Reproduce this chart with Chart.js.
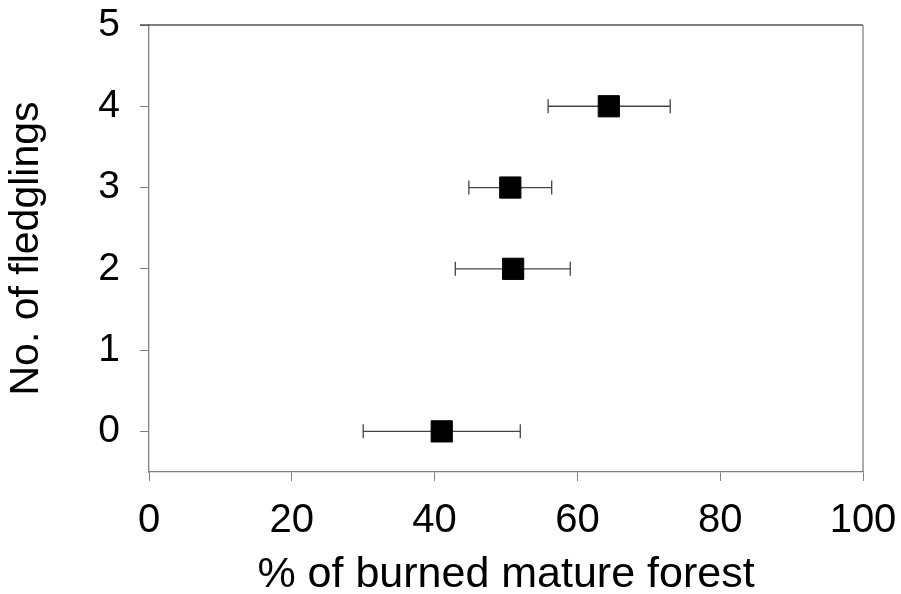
<!DOCTYPE html>
<html>
<head>
<meta charset="utf-8">
<script src="https://cdn.jsdelivr.net/npm/chart.js@4"></script>
<style>
  html, body { margin: 0; padding: 0; background: #fff; }
</style>
</head>
<body>
<canvas id="chart" width="901" height="594"></canvas>
<script>
const fledglings = [4, 3, 2, 0];
const burnedMean = [64.4, 50.6, 51.0, 41.0];
const burnedLow = [55.9, 44.8, 42.9, 30.0];
const burnedHigh = [73.0, 56.4, 59.0, 52.0];
const xTicks = [0, 20, 40, 60, 80, 100];
const yTicks = [0, 1, 2, 3, 4, 5];

const axisColor = "#808080";
const fontFamily = "'Liberation Sans', Arial, sans-serif";

const errorBars = {
    id: "errorBars",
    beforeDatasetsDraw(chart) {
        const { ctx, scales: { x, y } } = chart;
        ctx.save();
        ctx.strokeStyle = "#444";
        ctx.lineWidth = 1.3;
        fledglings.forEach((v, i) => {
            const py = y.getPixelForValue(v);
            const x1 = x.getPixelForValue(burnedLow[i]);
            const x2 = x.getPixelForValue(burnedHigh[i]);
            ctx.beginPath();
            ctx.moveTo(x1, py);
            ctx.lineTo(x2, py);
            ctx.moveTo(x1, py - 7);
            ctx.lineTo(x1, py + 7);
            ctx.moveTo(x2, py - 7);
            ctx.lineTo(x2, py + 7);
            ctx.stroke();
        });
        ctx.restore();
    },
};

// top and right edges of the plot frame
const frame = {
    id: "frame",
    afterDraw(chart) {
        const { ctx, chartArea: a } = chart;
        ctx.save();
        ctx.strokeStyle = "#555";
        ctx.lineWidth = 1.3;
        ctx.beginPath();
        ctx.moveTo(a.left - 9, a.top);
        ctx.lineTo(a.right, a.top);
        ctx.stroke();
        ctx.strokeStyle = axisColor;
        ctx.beginPath();
        ctx.moveTo(a.right, a.top);
        ctx.lineTo(a.right, a.bottom);
        ctx.stroke();
        ctx.restore();
    },
};

new Chart(document.getElementById("chart"), {
    type: "scatter",
    data: {
        datasets: [
            {
                data: fledglings.map((v, i) => ({ x: burnedMean[i], y: v })),
                pointStyle: "rect",
                pointRadius: 15,
                pointHoverRadius: 15,
                backgroundColor: "#000",
                borderColor: "#000",
                borderWidth: 1,
            },
        ],
    },
    options: {
        responsive: false,
        animation: false,
        layout: { padding: { left: 0, right: 38, top: 25, bottom: 0 } },
        plugins: { legend: { display: false }, tooltip: { enabled: false } },
        scales: {
            x: {
                min: 0,
                max: 100,
                afterBuildTicks: (s) => { s.ticks = xTicks.map((v) => ({ value: v })); },
                afterFit: (s) => {
                    s.height = 122;
                    s.paddingLeft = 0;
                    s.paddingRight = 0;
                },
                grid: { drawOnChartArea: false, drawTicks: true, tickLength: 9, color: axisColor },
                border: { display: true, color: axisColor, width: 1.3 },
                ticks: { color: "#000", padding: 16, maxRotation: 0, font: { family: fontFamily, size: 40 } },
                title: {
                    display: true,
                    text: "% of burned mature forest",
                    color: "#000",
                    padding: { top: 0, bottom: -3 },
                    font: { family: fontFamily, size: 43, lineHeight: 1 },
                },
            },
            y: {
                min: -0.5,
                max: 5,
                afterBuildTicks: (s) => { s.ticks = yTicks.map((v) => ({ value: v })); },
                afterFit: (s) => {
                    s.width = 149;
                    s.paddingTop = 0;
                    s.paddingBottom = 0;
                },
                grid: { drawOnChartArea: false, drawTicks: true, tickLength: 9, color: axisColor },
                border: { display: true, color: axisColor, width: 1.3 },
                ticks: { color: "#000", padding: 20, font: { family: fontFamily, size: 39 } },
                title: {
                    display: true,
                    text: "No. of fledglings",
                    color: "#000",
                    padding: { top: 6, bottom: 0 },
                    font: { family: fontFamily, size: 41, lineHeight: 1 },
                },
            },
        },
    },
    plugins: [errorBars, frame],
});
</script>
</body>
</html>
